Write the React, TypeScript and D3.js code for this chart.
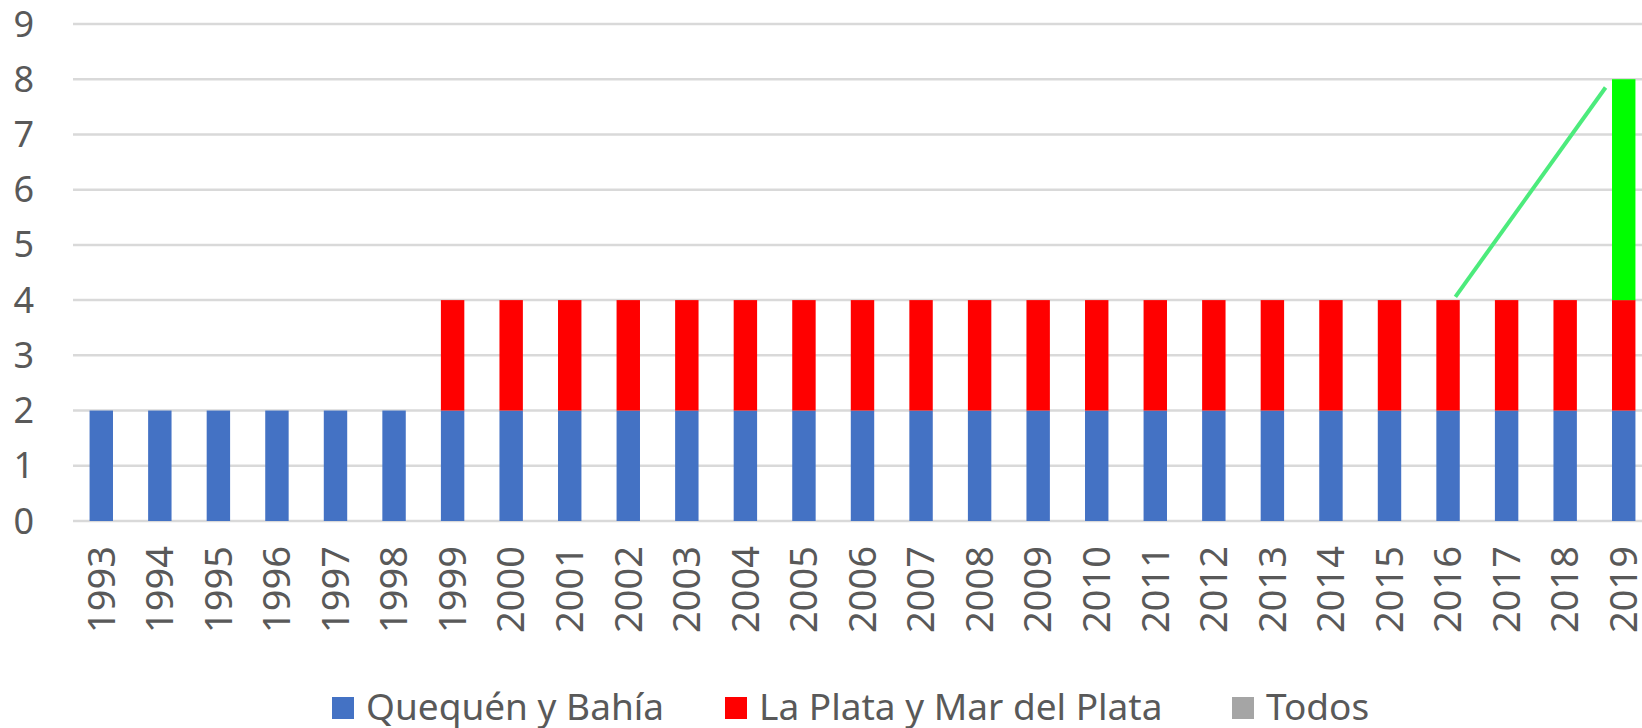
import React, { useEffect } from "react";
import * as d3 from "d3";

const years = ["1993","1994","1995","1996","1997","1998","1999","2000","2001","2002","2003","2004","2005","2006","2007","2008","2009","2010","2011","2012","2013","2014","2015","2016","2017","2018","2019"];
const quequen = [2,2,2,2,2,2,2,2,2,2,2,2,2,2,2,2,2,2,2,2,2,2,2,2,2,2,2];
const laPlata = [0,0,0,0,0,0,2,2,2,2,2,2,2,2,2,2,2,2,2,2,2,2,2,2,2,2,2];
const todos = [0,0,0,0,0,0,0,0,0,0,0,0,0,0,0,0,0,0,0,0,0,0,0,0,0,0,4];
const yTicks = [0,1,2,3,4,5,6,7,8,9];
const seriesNames = ["Quequén y Bahía", "La Plata y Mar del Plata", "Todos"];
const barColors = ["#4472C4", "#FF0000", "#00FF00"];
const legendColors = ["#4472C4", "#FF0000", "#A5A5A5"];
// annotation line: [year, value, offset within step]
const annotation: [string, number, number][] = [["2016", 4.06, 0.125], ["2019", 7.85, -0.31]];

const W = 1642, H = 728;
const FONT = "'Noto Sans', 'Open Sans', sans-serif";

export default function App() {
  useEffect(() => { document.body.style.margin = "0"; }, []);
  const x = d3.scaleBand<string>().domain(years).range([72, 1653]).paddingInner(0.6).paddingOuter(0.3);
  const y = d3.scaleLinear().domain([0, 9]).range([521, 24]);
  const data = years.map((yr, i) => ({ year: yr, s0: quequen[i], s1: laPlata[i], s2: todos[i] }));
  const stack = d3.stack<any>().keys(["s0", "s1", "s2"])(data);
  const step = x.step();
  const line = d3.line<[string, number, number]>()
    .x(d => (x(d[0]) as number) + x.bandwidth() / 2 + d[2] * step)
    .y(d => y(d[1]));
  const legendX = [332, 725, 1232];
  return (
    <svg width={W} height={H} style={{ display: "block", background: "#fff" }} fontFamily={FONT}>
      {yTicks.map(t => (
        <g key={t}>
          <line x1={73} x2={W} y1={y(t)} y2={y(t)} stroke="#D9D9D9" strokeWidth={2.5} />
          <text x={34} y={y(t)} dy="0.35em" textAnchor="end" fontSize={36} fill="#595959">{t}</text>
        </g>
      ))}
      {stack.map((layer, li) => (
        <g key={li} fill={barColors[li]}>
          {layer.map((d, i) => d[1] - d[0] > 0 ? (
            <rect key={i} x={x(years[i])} width={x.bandwidth()} y={y(d[1])} height={y(d[0]) - y(d[1])} />
          ) : null)}
        </g>
      ))}
      <path d={line(annotation) || ""} stroke="#4CEB7C" strokeWidth={4} fill="none" />
      {years.map(yr => {
        const cx = (x(yr) as number) + x.bandwidth() / 2;
        return (
          <text key={yr} transform={`translate(${cx},546) rotate(-90)`} dy="0.35em" textAnchor="end" fontSize={38} fill="#595959">{yr}</text>
        );
      })}
      {seriesNames.map((n, i) => (
        <g key={n}>
          <rect x={legendX[i]} y={697} width={22} height={22} fill={legendColors[i]} />
          <text x={legendX[i] + 34} y={720} fontSize={37} fill="#595959">{n}</text>
        </g>
      ))}
    </svg>
  );
}
